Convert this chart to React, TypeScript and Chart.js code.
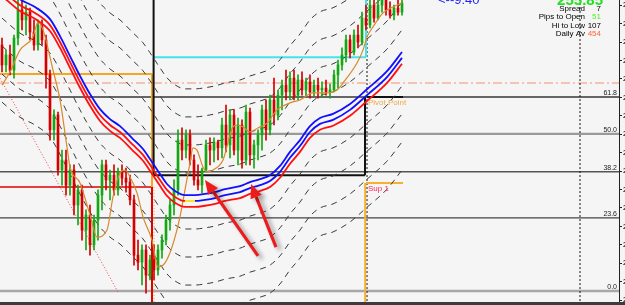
import React, { useEffect, useRef } from "react";
import { Chart, registerables } from "chart.js";
Chart.register(...registerables);

// ---- candles (bar index 0..100) ----
const opens = [254.92,254.38,254.65,254.24,255.11,255.87,255.60,255.81,255.27,254.92,255.46,255.06,254.11,252.62,253.02,251.53,251.80,251.12,251.53,250.58,250.99,249.90,250.31,249.50,250.17,250.85,251.67,251.26,251.39,250.99,251.48,251.31,251.20,250.72,249.22,249.03,249.36,248.68,249.09,248.82,249.36,249.63,250.17,250.58,250.99,252.34,252.07,252.48,251.80,251.26,251.12,251.53,252.21,252.07,252.29,252.13,252.75,252.21,253.02,252.07,252.75,251.80,253.10,251.94,252.21,252.48,253.16,252.62,253.43,253.02,253.56,253.83,253.65,254.02,253.56,253.97,253.70,253.92,253.65,253.83,253.70,253.75,253.65,253.70,254.11,254.38,254.65,255.06,254.73,255.19,255.00,255.65,255.46,256.00,255.65,256.00,256.14,255.87,255.73,255.92,255.81];
const highs = [255.11,254.78,254.92,255.19,256.14,256.28,256.00,255.92,255.60,255.60,255.60,255.19,254.24,253.16,253.10,252.07,252.07,251.67,251.67,251.12,251.12,250.45,250.58,250.31,250.99,251.80,251.80,251.53,251.67,251.58,251.67,251.58,251.39,250.85,249.63,249.50,249.50,249.22,249.50,249.50,249.77,250.31,250.72,251.26,252.62,252.67,252.62,252.62,251.94,251.67,251.58,252.34,252.40,252.40,252.34,252.94,253.29,253.16,253.16,252.94,252.89,253.29,253.21,252.34,252.62,253.29,253.43,253.56,254.02,253.70,253.97,254.24,254.19,254.24,254.11,254.19,254.02,254.11,253.97,254.02,253.92,253.97,253.86,254.24,254.51,254.84,255.19,255.19,255.33,255.46,255.81,256.00,256.14,256.28,256.14,256.28,256.28,256.09,256.00,256.28,256.28];
const lows = [254.19,254.19,254.11,254.02,254.92,255.33,255.19,255.06,254.78,254.78,254.92,253.75,252.34,252.34,251.39,251.12,250.85,250.85,250.31,250.04,249.63,249.36,249.22,249.36,249.63,250.45,250.99,250.72,250.85,250.85,251.12,250.93,250.58,248.95,248.82,248.41,248.19,248.55,248.55,248.68,249.14,249.50,249.90,250.31,250.85,251.80,251.86,251.67,251.12,250.99,250.91,251.48,251.67,251.75,251.80,251.86,252.02,251.86,251.94,251.67,251.58,251.67,251.67,251.58,251.80,252.07,252.34,252.48,252.75,252.89,253.16,253.43,253.43,253.43,253.43,253.56,253.54,253.48,253.54,253.48,253.51,253.56,253.48,253.65,253.75,254.24,254.46,254.57,254.65,254.84,254.92,255.33,255.38,255.54,255.60,255.81,255.73,255.65,255.60,255.73,255.73];
const closes = [254.38,254.65,254.24,255.11,255.87,255.60,255.81,255.27,254.92,255.46,255.06,254.11,252.62,253.02,251.53,251.80,251.12,251.53,250.58,250.99,249.90,250.31,249.50,250.17,250.85,251.67,251.26,251.39,250.99,251.48,251.31,251.20,250.72,249.22,249.03,249.36,248.68,249.09,248.82,249.36,249.63,250.17,250.58,250.99,252.34,252.07,252.48,251.80,251.26,251.12,251.53,252.21,252.07,252.29,252.13,252.75,252.21,253.02,252.07,252.75,251.80,253.10,251.94,252.21,252.48,253.16,252.62,253.43,253.02,253.56,253.83,253.65,254.02,253.56,253.97,253.70,253.92,253.65,253.83,253.70,253.75,253.65,253.70,254.11,254.38,254.65,255.06,254.73,255.19,255.00,255.65,255.46,256.00,255.65,256.00,256.14,255.87,255.73,255.92,255.81,256.06];

// ---- fast moving average (orange) ----
const maIdx = [0,2,4.5,7.75,9,10.25,12.75,14.5,16.25,17,19.5,22,23.75,26.25,27.75,29.5,30.75,32,33.75,35.25,37.5,39,40.75,42.5,44.5,45.75,47,47.75,48.75,50.25,51.25,52.75,55.25,57.75,58.75,60.25,62,64,66.25,68.75,72,74.5,77.75,81.25,83.75,85.25,88.75,90.25,91.25,92.75,95.25,97.75,100];
const maPrice = [253.83,254.19,254.78,255.14,255.54,255.33,254.24,253.43,252.15,251.61,251.18,250.31,249.71,249.90,250.80,251.45,251.53,251.34,250.91,250.26,249.63,248.90,249.01,249.44,250.26,250.99,251.72,252.13,252.07,251.61,251.48,251.53,251.80,252.70,252.75,252.70,252.56,252.67,252.80,253.16,253.35,253.43,253.62,253.62,253.70,253.89,254.43,254.78,255.14,255.41,255.79,255.95,256.06];

// ---- slow envelope centre line ----
const envIdx = [0,4.5,8.25,12,14.5,17,19.5,22,24.5,27,29.5,32.75,35.25,37,39.5,41.25,43.25,45.75,48.25,50.75,53.25,55.75,59.5,62,64.5,67,69.5,72,74.5,77,79.5,82.75,87,91.25,96.25,100];
const envMid = [256.41,256.00,255.79,255.46,255.00,254.46,253.92,253.43,253.02,252.75,252.56,252.21,251.94,251.67,251.26,250.99,250.80,250.69,250.69,250.72,250.77,250.85,250.93,251.04,251.12,251.23,251.48,251.86,252.18,252.56,252.78,252.89,253.16,253.56,254.05,254.57];
const envHalfWidth = 0.16;
const channelOffsets = [3.04, 2.28, 1.52, 0.76, -0.76, -1.52, -2.28, -3.04];

// ---- levels ----
const fibLevels = [253.51, 252.51, 251.48, 250.23, 248.25];
const fibLabels = ["61.8", "50.0", "38.2", "23.6", "0.0"];
const dashDotLevel = 253.89;
const prevHighLevel = 254.13;
const prevLowLevel = 251.07;
const sessionIdx = 37.5;
const boxLeftIdx = 37.9;
const boxRightIdx = 90.75;
const boxBottom = 251.39;
const cyanLevel = 254.59;
const cyanEndIdx = 91;
const pivotLevel = 253.51;
const sup1Level = 251.18;
const levelStartIdx = 91;
const levelEndIdx = 100.25;
const nowIdx = 91.25;
const futureIdx = 144.5;
const trendLineIdx = [-0.5, 29];
const trendLinePrice = [254.02, 248.22];
const arrowTailIdx = [64, 68.5];
const arrowTailPrice = [249.2, 249.44];
const arrowHeadIdx = [50.75, 62.25];
const arrowHeadPrice = [251.26, 251.15];

const infoLabels = ["Spread", "Pips to Open", "Hi to Low", "Daily Av"];
const infoValues = ["7", "51", "107", "454"];
const infoColors = ["#000000", "#55ee22", "#000000", "#ff6633"];
const clockText = "<--9:40";
const priceText = "255.85";

const GREEN = "#13a813";
const RED = "#d40000";
const TOP = 256.6;
const BOTTOM = 247.6;
const FONT = "'Liberation Sans', Arial, sans-serif";

function seg(x1: number, y1: number, x2: number, y2: number, color: string, width: number, dash: number[], order: number) {
  return {
    type: "line" as const,
    data: [{ x: x1, y: y1 }, { x: x2, y: y2 }],
    borderColor: color,
    borderWidth: width,
    borderDash: dash,
    pointRadius: 0,
    tension: 0,
    fill: false,
    order,
  };
}

export default function App() {
  const ref = useRef<HTMLCanvasElement>(null);
  useEffect(() => {
    document.body.style.margin = "0";
    const canvas = ref.current!;
    const bodies = opens.map((o, i) => ({ x: i, y: [o, closes[i]] }));
    const wicks = lows.map((l, i) => ({ x: i, y: [l, highs[i]] }));
    const candleColor = (c: any) => {
      const i = c.dataIndex;
      return closes[i] >= opens[i] ? GREEN : RED;
    };

    const datasets: any[] = [];
    // envelope
    datasets.push({
      type: "line", data: envIdx.map((x, i) => ({ x, y: envMid[i] + envHalfWidth })),
      borderColor: "#1010ff", borderWidth: 1.8, pointRadius: 0, cubicInterpolationMode: "monotone", order: 1,
    });
    datasets.push({
      type: "line", data: envIdx.map((x, i) => ({ x, y: envMid[i] })),
      borderColor: "#1010ff", borderWidth: 1.8, pointRadius: 0, cubicInterpolationMode: "monotone", order: 1,
      segment: {
        borderColor: (c: any) =>
          c.p1.parsed.y === c.p0.parsed.y ? "#ffe000" : c.p1.parsed.y > c.p0.parsed.y ? "#1010ff" : "#ff1010",
      },
    });
    datasets.push({
      type: "line", data: envIdx.map((x, i) => ({ x, y: envMid[i] - envHalfWidth })),
      borderColor: "#ff1010", borderWidth: 1.8, pointRadius: 0, cubicInterpolationMode: "monotone", order: 1,
    });
    // orange MA
    datasets.push({
      type: "line", data: maIdx.map((x, i) => ({ x, y: maPrice[i] })),
      borderColor: "#d8892c", borderWidth: 1.2, pointRadius: 0, cubicInterpolationMode: "monotone", order: 2,
    });
    // candles
    datasets.push({
      type: "bar", data: bodies, backgroundColor: candleColor, barThickness: 2, grouped: false,
      borderWidth: 0, minBarLength: 1, order: 3,
    });
    datasets.push({
      type: "bar", data: wicks, backgroundColor: candleColor, barThickness: 1, grouped: false,
      borderWidth: 0, order: 4,
    });
    // dashed channel lines
    channelOffsets.forEach((off) => {
      datasets.push({
        type: "line", data: envIdx.map((x, i) => ({ x, y: envMid[i] + off })),
        borderColor: "#3a3a3a", borderWidth: 1, borderDash: [6, 5], pointRadius: 0,
        cubicInterpolationMode: "monotone", order: 5,
      });
    });
    // box / session lines
    datasets.push(seg(boxLeftIdx, TOP, boxLeftIdx, boxBottom, "#111111", 2, [], 6));
    datasets.push(seg(boxLeftIdx, boxBottom, boxRightIdx, boxBottom, "#111111", 2, [], 6));
    datasets.push(seg(boxRightIdx, pivotLevel, boxRightIdx, boxBottom, "#111111", 2, [], 6));
    datasets.push(seg(boxLeftIdx, cyanLevel, cyanEndIdx, cyanLevel, "#45e3ea", 2, [], 6));
    datasets.push(seg(cyanEndIdx, TOP, cyanEndIdx, cyanLevel, "#45e3ea", 2, [], 6));
    datasets.push(seg(-0.5, prevHighLevel, sessionIdx, prevHighLevel, "#f5a623", 2, [], 6));
    datasets.push(seg(sessionIdx, prevHighLevel, sessionIdx, prevLowLevel, "#f5a623", 2, [], 6));
    datasets.push(seg(-0.5, prevLowLevel, sessionIdx, prevLowLevel, "#e00000", 1.5, [], 6));
    datasets.push(seg(sessionIdx, prevLowLevel, sessionIdx, BOTTOM, "#e00000", 2, [], 6));
    datasets.push(seg(sessionIdx + 0.5, prevLowLevel, sessionIdx + 0.5, BOTTOM, "#f5a623", 1, [1, 2], 6));
    datasets.push(seg(nowIdx, pivotLevel, levelEndIdx, pivotLevel, "#111111", 2, [], 6));
    datasets.push(seg(levelStartIdx, sup1Level, levelEndIdx, sup1Level, "#f7b030", 2, [], 6));
    datasets.push(seg(levelStartIdx - 0.2, sup1Level, levelStartIdx - 0.2, BOTTOM, "#f7b030", 2, [], 6));
    datasets.push(seg(nowIdx, TOP, nowIdx, BOTTOM, "#111111", 1, [2, 2], 6));
    datasets.push(seg(futureIdx, TOP, futureIdx, BOTTOM, "#111111", 1, [2, 2], 6));
    datasets.push(seg(trendLineIdx[0], trendLinePrice[0], trendLineIdx[1], trendLinePrice[1], "#ee4444", 1, [1, 2], 6));
    datasets.push(seg(-0.5, dashDotLevel, 154.25, dashDotLevel, "#f5b29c", 1.6, [9, 3, 2, 3], 7));
    // fib levels
    const fibColors = ["#666666", "#9a9a9a", "#555555", "#444444", "#a8a8a8"];
    const fibWidths = [2, 2.2, 1.5, 1.3, 2.5];
    fibLevels.forEach((lv, i) => {
      datasets.push(seg(-0.5, lv, 154.25, lv, fibColors[i], fibWidths[i], [], 8));
    });

    const overlay = {
      id: "overlay",
      beforeDraw(chart: any) {
        const { ctx, width, height } = chart;
        ctx.save();
        ctx.fillStyle = "#f5f5f5";
        ctx.fillRect(0, 0, width, height);
        ctx.restore();
      },
      afterDatasetsDraw(chart: any) {
        const { ctx, chartArea, scales } = chart;
        const xs = scales.x, ys = scales.y;
        ctx.save();
        // fib labels
        ctx.font = `7px ${FONT}`;
        ctx.fillStyle = "#222";
        ctx.textAlign = "right";
        ctx.textBaseline = "alphabetic";
        fibLevels.forEach((lv, i) => {
          ctx.fillText(fibLabels[i], chartArea.right - 2, ys.getPixelForValue(lv) - 1.5);
        });
        // pivot / support labels
        ctx.textAlign = "left";
        ctx.font = `8px ${FONT}`;
        ctx.fillStyle = "#f0a848";
        ctx.fillText("Pivot Point", xs.getPixelForValue(nowIdx) + 1, ys.getPixelForValue(pivotLevel) + 8);
        ctx.fillStyle = "#ff2a55";
        ctx.fillText("Sup 1", xs.getPixelForValue(nowIdx) + 1, ys.getPixelForValue(sup1Level) + 8);
        // arrows
        arrowTailIdx.forEach((tx, i) => {
          const x1 = xs.getPixelForValue(tx), y1 = ys.getPixelForValue(arrowTailPrice[i]);
          const x2 = xs.getPixelForValue(arrowHeadIdx[i]), y2 = ys.getPixelForValue(arrowHeadPrice[i]);
          const a = Math.atan2(y2 - y1, x2 - x1);
          const hl = 14, hw = 6;
          const bx = x2 - hl * Math.cos(a), by = y2 - hl * Math.sin(a);
          ctx.save();
          ctx.shadowColor = "rgba(0,0,0,0.35)";
          ctx.shadowBlur = 4;
          ctx.shadowOffsetX = 4;
          ctx.shadowOffsetY = 3;
          ctx.strokeStyle = "#ec1c1c";
          ctx.fillStyle = "#ec1c1c";
          ctx.lineWidth = 3.2;
          ctx.beginPath();
          ctx.moveTo(x1, y1);
          ctx.lineTo(bx, by);
          ctx.stroke();
          ctx.beginPath();
          ctx.moveTo(x2, y2);
          ctx.lineTo(bx + hw * Math.sin(a), by - hw * Math.cos(a));
          ctx.lineTo(bx - hw * Math.sin(a), by + hw * Math.cos(a));
          ctx.closePath();
          ctx.fill();
          ctx.restore();
        });
        ctx.restore();
      },
      afterDraw(chart: any) {
        const { ctx, chartArea, width } = chart;
        ctx.save();
        ctx.fillStyle = "#3c3c3c";
        ctx.fillRect(0, chartArea.bottom, width, 3);
        // top texts
        ctx.textBaseline = "alphabetic";
        ctx.textAlign = "left";
        ctx.font = `13px ${FONT}`;
        ctx.fillStyle = "#2525ff";
        ctx.fillText(clockText, chartArea.right - 181, 4);
        ctx.textAlign = "right";
        ctx.font = `bold 15px ${FONT}`;
        ctx.fillStyle = "#22e022";
        ctx.fillText(priceText, chartArea.right - 16, 5);
        ctx.font = `8px ${FONT}`;
        infoLabels.forEach((lab, i) => {
          const yb = 11 + i * 8.3;
          ctx.fillStyle = "#000";
          ctx.fillText(lab, chartArea.right - 34, yb);
          ctx.fillStyle = infoColors[i];
          ctx.fillText(infoValues[i], chartArea.right - 18, yb);
        });
        ctx.restore();
      },
    };

    const chart = new Chart(canvas, {
      type: "bar",
      data: { datasets },
      options: {
        responsive: false,
        animation: false,
        devicePixelRatio: 1,
        events: [],
        layout: { padding: { left: 0, right: 0, top: 0, bottom: 3 }, autoPadding: false },
        plugins: { legend: { display: false }, tooltip: { enabled: false } },
        scales: {
          x: { type: "linear", min: -0.5, max: 154.25, display: false, offset: false },
          y: {
            position: "right",
            min: 247.95,
            max: 256.14,
            ticks: {
              stepSize: 0.5,
              includeBounds: false,
              callback: (v: any) => Number(v).toFixed(2),
              font: { family: FONT, size: 8 },
              color: "#000",
              padding: 1,
            },
            grid: { drawOnChartArea: false, drawTicks: true, tickLength: 3, color: "#222" },
            border: { display: true, color: "#222", width: 1 },
            afterFit: (s: any) => {
              s.width = 41;
              s.paddingTop = 0;
              s.paddingBottom = 0;
            },
          },
        },
      } as any,
      plugins: [overlay],
    });
    return () => chart.destroy();
  }, []);
  return (
    <div style={{ width: 625, height: 305, overflow: "hidden", position: "relative" }}>
      <canvas ref={ref} width={660} height={305} style={{ display: "block", width: 660, height: 305 }} />
    </div>
  );
}
